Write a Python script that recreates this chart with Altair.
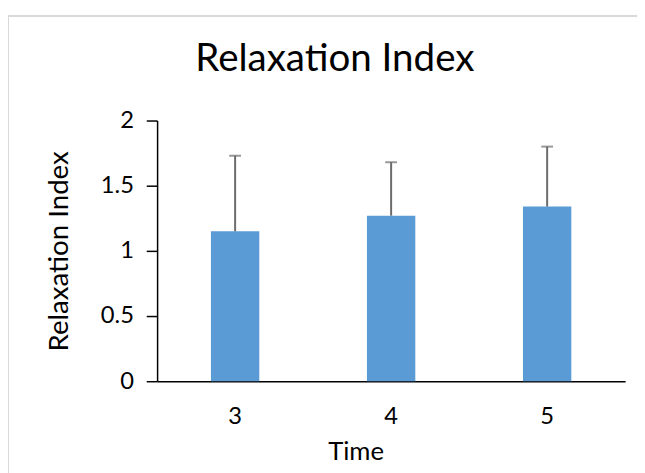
import altair as alt
import pandas as pd

# Data
times = ["3", "4", "5"]
means = [1.15, 1.27, 1.34]
errors = [0.58, 0.41, 0.46]

df = pd.DataFrame({
    "Time": times,
    "Mean": means,
    "Upper": [m + e for m, e in zip(means, errors)],
})

FONT = "Lato"
W, H = 474, 264

x_enc = alt.X(
    "Time:N",
    sort=times,
    scale=alt.Scale(paddingInner=0.69, paddingOuter=0.345),
    axis=alt.Axis(
        title="Time", labelAngle=0, ticks=False, tickSize=0,
        labelPadding=36, labelBaseline="middle", labelFontSize=24, titleFontSize=26,
        titleFontWeight="normal", titleX=201, titleY=71, titleBaseline="middle",
        domainColor="black", domainWidth=1.5, labelColor="black", titleColor="black",
    ),
)

base = alt.Chart(df)

bars = base.mark_bar(color="#5b9bd5").encode(
    x=x_enc,
    y=alt.Y(
        "Mean:Q",
        scale=alt.Scale(domain=[0, 2], nice=False),
        axis=alt.Axis(
            title="Relaxation Index", values=[0, 0.5, 1, 1.5, 2], format="~g", grid=False,
            tickSize=11, tickColor="black", tickWidth=1.5, labelPadding=13,
            labelFontSize=24, titleFontSize=28, titleFontWeight="normal",
            titleX=-99, titleY=H / 2, titleBaseline="middle",
            domainColor="black", domainWidth=1.5, labelColor="black", titleColor="black",
        ),
    ),
)

rules = base.mark_rule(color="#6b6b6b", strokeWidth=2).encode(
    x=alt.X("Time:N", sort=times),
    y="Mean:Q",
    y2="Upper:Q",
)

caps = base.mark_tick(color="#6b6b6b", thickness=2, size=12, orient="horizontal").encode(
    x=alt.X("Time:N", sort=times),
    y="Upper:Q",
)

frame = alt.Chart(df).mark_rect(fill=None, stroke="#d9d9d9", strokeWidth=2).encode(
    x=alt.value(-151), x2=alt.value(540), y=alt.value(-106), y2=alt.value(420)
)

chart = alt.layer(frame, bars, rules, caps).properties(
    width=W,
    height=H,
    title=alt.TitleParams(
        "Relaxation Index", fontSize=39, fontWeight="normal", font=FONT,
        color="black", anchor="middle", dx=-57, dy=116, offset=20,
        baseline="alphabetic",
    ),
    autosize=alt.AutoSizeParams(type="none"),
    padding={"left": 151, "top": 111, "right": 12, "bottom": 91},
).configure(font=FONT).configure_view(stroke=None).configure_axis(
    labelFont=FONT, titleFont=FONT
)

chart.save("out.html", embed_options={"renderer": "svg", "actions": False})
